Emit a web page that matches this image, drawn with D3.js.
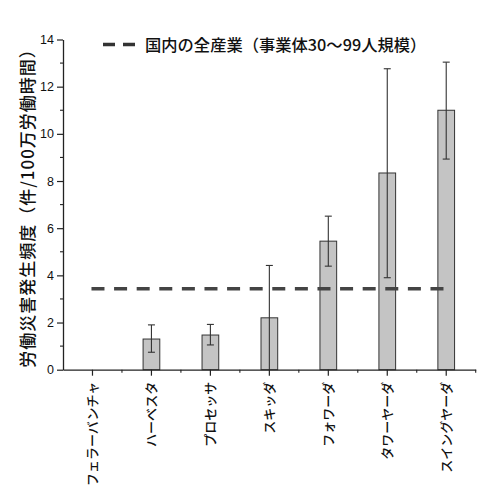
<!DOCTYPE html>
<html><head><meta charset="utf-8">
<script src="https://cdn.jsdelivr.net/npm/d3@7"></script>
<style>
html,body{margin:0;padding:0;background:#fff;}
svg{display:block;}
</style>
</head><body>
<svg id="c" width="500" height="499"></svg>
<script>
const categories = ["フェラーバンチャ","ハーベスタ","プロセッサ","スキッダ","フォワーダ","タワーヤーダ","スイングヤーダ"];
const values = [0, 1.30, 1.47, 2.20, 5.45, 8.34, 11.0];
const errLow = [null, 0.74, 1.05, 0, 4.39, 3.90, 8.93];
const errHigh = [null, 1.90, 1.92, 4.42, 6.51, 12.76, 13.04];
const referenceValue = 3.43;
const yTicks = [0,2,4,6,8,10,12,14];
const yMinorTicks = [1,3,5,7,9,11,13];
const legendLabel = "国内の全産業（事業体30～99人規模）";
const yLabel = "労働災害発生頻度（件/100万労働時間）";

const svg = d3.select("#c");
const L = 63, R = 475.7, T = 39.5, B = 369.7;
const x = d3.scaleBand().domain(categories).range([L, R]).padding(0);
const y = d3.scaleLinear().domain([0, 14]).range([B, T]);
const ink = "#222";
const jp = "'Noto Sans CJK JP', 'Noto Sans', sans-serif";
const num = "'Liberation Sans', Arial, sans-serif";

// bars
const barW = 16.7;
const data = categories.map((c, i) => ({c, v: values[i], lo: errLow[i], hi: errHigh[i]}));
svg.append("g").selectAll("rect").data(data.filter(d => d.v > 0)).join("rect")
  .attr("x", d => x(d.c) + x.bandwidth()/2 - barW/2)
  .attr("y", d => y(d.v))
  .attr("width", barW)
  .attr("height", d => y(0) - y(d.v))
  .attr("fill", "#c4c4c4").attr("stroke", "#333").attr("stroke-width", 1);

// error bars
const eb = svg.append("g").attr("stroke", "#333").attr("stroke-width", 1.1);
data.filter(d => d.hi != null).forEach(d => {
  const cx = x(d.c) + x.bandwidth()/2;
  eb.append("line").attr("x1", cx).attr("x2", cx).attr("y1", y(d.lo)).attr("y2", y(d.hi));
  eb.append("line").attr("x1", cx-3.5).attr("x2", cx+3.5).attr("y1", y(d.hi)).attr("y2", y(d.hi));
  if (d.lo > 0) eb.append("line").attr("x1", cx-3.5).attr("x2", cx+3.5).attr("y1", y(d.lo)).attr("y2", y(d.lo));
});

// reference dashed line
const c0 = x(categories[0]) + x.bandwidth()/2, c1 = x(categories[categories.length-1]) + x.bandwidth()/2;
svg.append("line").attr("x1", c0 - 1).attr("x2", c1 + 1)
  .attr("y1", y(referenceValue)).attr("y2", y(referenceValue))
  .attr("stroke", "#444").attr("stroke-width", 3.5).attr("stroke-dasharray", "13,9.6");

// y axis
const yAxis = svg.append("g").attr("transform", `translate(${L},0)`)
  .call(d3.axisLeft(y).tickValues(yTicks).tickSize(6).tickSizeOuter(0).tickPadding(3));
yAxis.select(".domain").attr("stroke", ink).attr("stroke-width", 1.3);
yAxis.selectAll(".tick line").attr("stroke", ink).attr("stroke-width", 1.2);
yAxis.selectAll("text").attr("font-family", num).attr("font-size", 12.5).attr("fill", "#111");
svg.append("g").selectAll("line").data(yMinorTicks).join("line")
  .attr("x1", L - 3).attr("x2", L).attr("y1", d => y(d)).attr("y2", d => y(d))
  .attr("stroke", ink).attr("stroke-width", 1.1);

// x axis
const xAxis = svg.append("g").attr("transform", `translate(0,${B})`)
  .call(d3.axisBottom(x).tickSize(6).tickSizeOuter(0).tickFormat(""));
xAxis.select(".domain").attr("stroke", ink).attr("stroke-width", 1.3);
xAxis.selectAll(".tick line").attr("stroke", ink).attr("stroke-width", 1.2);
svg.append("g").selectAll("line").data(categories.map(c => x(c) + x.bandwidth())).join("line")
  .attr("x1", d => d).attr("x2", d => d).attr("y1", B).attr("y2", B + 3)
  .attr("stroke", ink).attr("stroke-width", 1.1);

// x labels rotated
svg.append("g").selectAll("text").data(categories).join("text")
  .attr("transform", d => `translate(${x(d) + x.bandwidth()/2 + 4.5},${B + 12}) rotate(-90)`)
  .attr("text-anchor", "end")
  .attr("font-family", jp).attr("font-size", 13).attr("font-weight", 500).attr("fill", "#111")
  .text(d => d);

// y label
svg.append("text")
  .attr("transform", `translate(34,${204}) rotate(-90)`)
  .attr("text-anchor", "middle")
  .attr("font-family", jp).attr("font-size", 17).attr("font-weight", 500)
  .attr("letter-spacing", 1).attr("fill", "#111")
  .text(yLabel);

// legend
svg.append("line").attr("x1", 103).attr("x2", 135).attr("y1", 44.5).attr("y2", 44.5)
  .attr("stroke", "#333").attr("stroke-width", 3.5).attr("stroke-dasharray", "12,8");
svg.append("text").attr("x", 145).attr("y", 50.5)
  .attr("font-family", jp).attr("font-size", 16.3).attr("font-weight", 500).attr("fill", "#111")
  .text(legendLabel);
</script>
</body></html>
